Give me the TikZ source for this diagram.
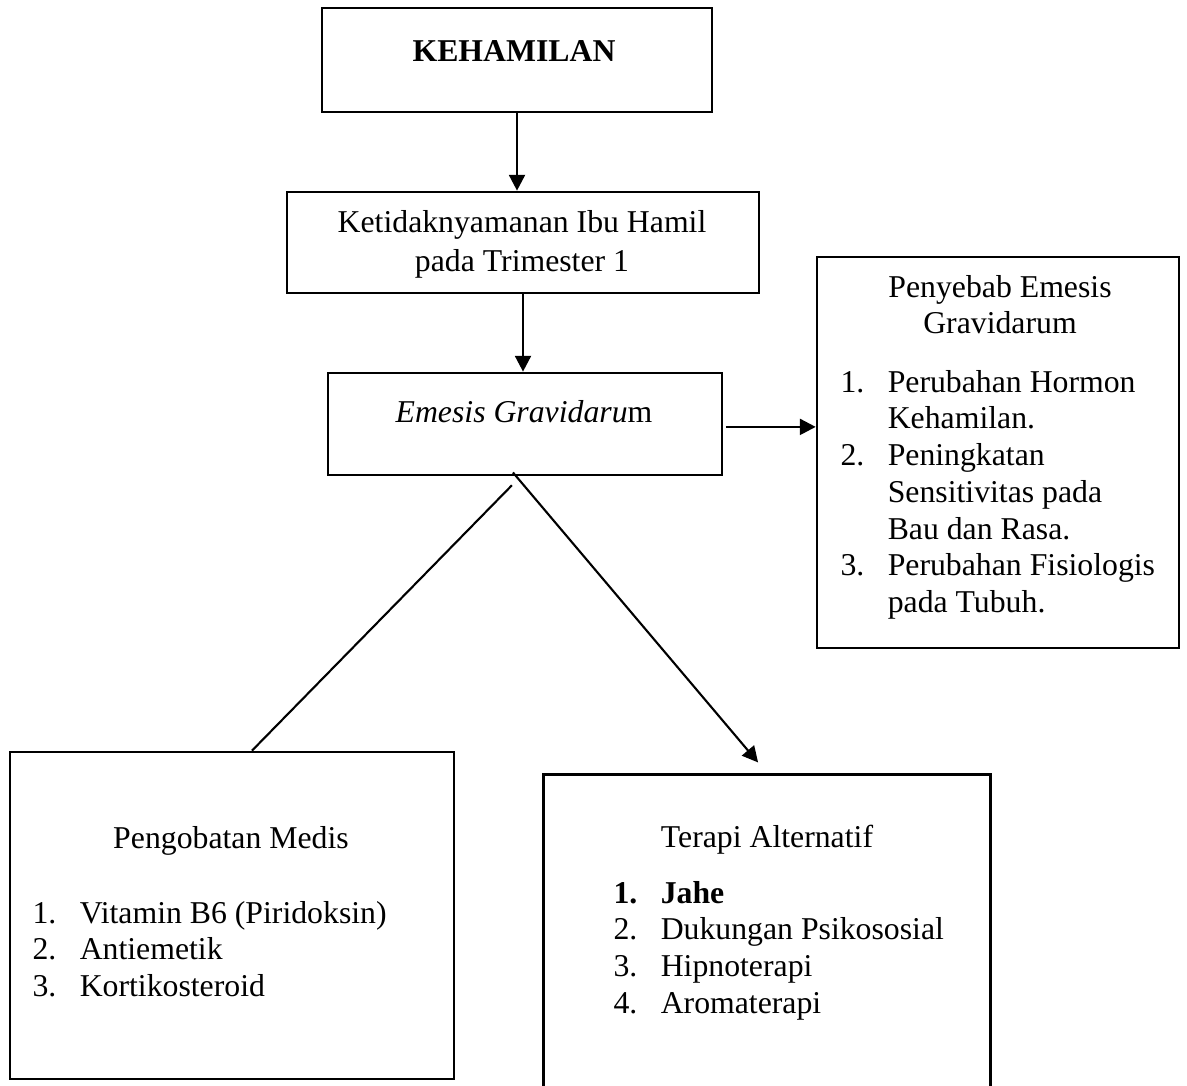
\documentclass[tikz,border=0pt]{standalone}
\usepackage{fontspec}
\setmainfont{Liberation Serif}
\usepackage{tikz}
\usetikzlibrary{arrows.meta}

\tikzset{
  box/.style={draw, line width=1pt, inner sep=0pt},
  txt/.style={inner sep=0pt, font=\fontsize{12.1}{14}\selectfont},
  arr/.style={-{Triangle[length=6pt,width=6pt]}, line width=1pt},
  lin/.style={line width=0.8pt}
}

\begin{document}
\begin{tikzpicture}[x=0.381pt, y=-0.381pt]

\useasboundingbox[fill=white] (0,0) rectangle (1187,1085);

\node[box, minimum width=148.6pt, minimum height=39.6pt] (keh) at (517,60) {};
\node[box, minimum width=179.8pt, minimum height=38.5pt] (ktd) at (523,242.5) {};
\node[box, minimum width=150.1pt, minimum height=38.9pt] (eme) at (525,424) {};
\node[box, minimum width=137.9pt, minimum height=149pt] (pny) at (998,452.5) {};
\node[box, minimum width=169.2pt, minimum height=124.6pt] (med) at (232,915.5) {};
\node[inner sep=0pt, minimum width=169.9pt, minimum height=118.1pt] (ter) at (767,930) {};
\draw[line width=1pt] (ter.south west) -- (ter.north west) -- (ter.north east) -- (ter.south east);

\node[txt, anchor=base] (kehT) at (514,61) {\textbf{KEHAMILAN}};
\node[txt, font=\fontsize{12.1}{15}\selectfont, anchor=base] (ktdT) at (522,232) {\begin{tabular}[t]{@{}c@{}}Ketidaknyamanan Ibu Hamil\\pada Trimester 1\end{tabular}};
\node[txt, anchor=base] (emeT) at (524,422) {\textit{Emesis Gravidaru}m};

\node[txt, anchor=base] (pnyT) at (1000,297) {\begin{tabular}[t]{@{}c@{}}Penyebab Emesis\\Gravidarum\end{tabular}};
\node[txt, anchor=base west] (pnyL) at (840,392) {\begin{tabular}[t]{@{}p{18pt}@{}l@{}}
1. & Perubahan Hormon\\
   & Kehamilan.\\
2. & Peningkatan\\
   & Sensitivitas pada\\
   & Bau dan Rasa.\\
3. & Perubahan Fisiologis\\
   & pada Tubuh.
\end{tabular}};

\node[txt, anchor=base] (medT) at (231,848) {Pengobatan Medis};
\node[txt, anchor=base west] (medL) at (32,923) {\begin{tabular}[t]{@{}p{18pt}@{}l@{}}
1. & Vitamin B6 (Piridoksin)\\
2. & Antiemetik\\
3. & Kortikosteroid
\end{tabular}};

\node[txt, anchor=base] (terT) at (767,847) {Terapi Alternatif};
\node[txt, anchor=base west] (terL) at (613,903) {\begin{tabular}[t]{@{}p{18pt}@{}l@{}}
\textbf{1.} & \textbf{Jahe}\\
2. & Dukungan Psikososial\\
3. & Hipnoterapi\\
4. & Aromaterapi
\end{tabular}};

\draw[arr] (keh.south) -- (keh.south |- ktd.north);
\draw[arr] (ktd.south) -- (ktd.south |- eme.north);
\draw[arr, shorten <=1pt] ([yshift=-1.1pt]eme.east) -- ([yshift=-1.1pt]eme.east -| pny.west);
\draw[lin] ([xshift=-5pt,yshift=-3.4pt]eme.south) -- ([xshift=7.6pt]med.north);
\draw[arr, line width=0.8pt] ([xshift=-4.6pt,yshift=1.5pt]eme.south) -- ([xshift=-3.4pt,yshift=4.6pt]ter.north);

\end{tikzpicture}
\end{document}
